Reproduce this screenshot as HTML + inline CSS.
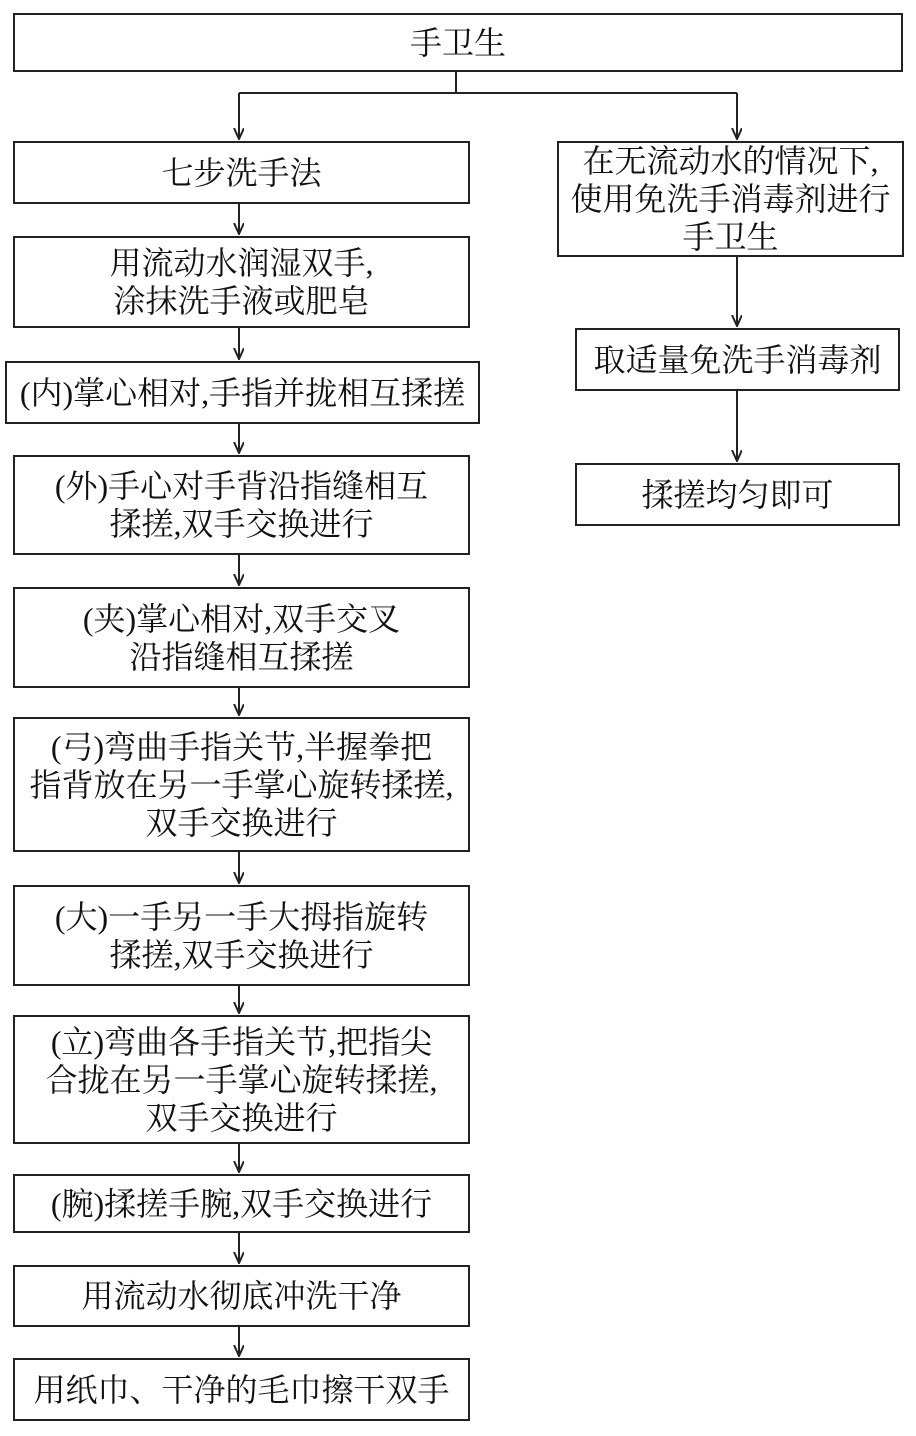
<!DOCTYPE html>
<html><head><meta charset="utf-8"><style>
body{margin:0;width:916px;height:1436px;background:#fff;position:relative;overflow:hidden;font-family:"Liberation Serif","Noto Serif CJK SC",serif;color:#111}
.b{position:absolute;border:2px solid #222;box-sizing:border-box;display:flex;align-items:center;justify-content:center;text-align:center;font-size:32px;line-height:38px;white-space:nowrap}
svg{position:absolute;left:0;top:0}
</style></head><body>
<svg width="916" height="1436">
<defs><marker id="a" markerWidth="12" markerHeight="12" refX="11" refY="5" orient="auto" markerUnits="userSpaceOnUse"><path d="M0,0 L11,5 L0,10" fill="none" stroke="#222" stroke-width="2"/></marker></defs>
<g stroke="#222" stroke-width="2" fill="none">
<path d="M456,71 V93 M239,93 H737"/>
<path d="M239,93 V139" marker-end="url(#a)"/>
<path d="M737,93 V139" marker-end="url(#a)"/>
<path d="M239,203 V234" marker-end="url(#a)"/>
<path d="M239,327 V359" marker-end="url(#a)"/>
<path d="M239,423 V453" marker-end="url(#a)"/>
<path d="M239,554 V585" marker-end="url(#a)"/>
<path d="M239,687 V715" marker-end="url(#a)"/>
<path d="M239,851 V883" marker-end="url(#a)"/>
<path d="M239,985 V1013" marker-end="url(#a)"/>
<path d="M239,1143 V1172" marker-end="url(#a)"/>
<path d="M239,1232 V1263" marker-end="url(#a)"/>
<path d="M239,1326 V1356" marker-end="url(#a)"/>
<path d="M737,256 V326" marker-end="url(#a)"/>
<path d="M737,390 V461" marker-end="url(#a)"/>
</g></svg>
<div class="b" style="left:13px;top:13px;width:890px;height:59px">手卫生</div>
<div class="b" style="left:13px;top:141px;width:457px;height:63px">七步洗手法</div>
<div class="b" style="left:13px;top:236px;width:457px;height:92px">用流动水润湿双手,<br>涂抹洗手液或肥皂</div>
<div class="b" style="left:5px;top:361px;width:475px;height:63px">(内)掌心相对,手指并拢相互揉搓</div>
<div class="b" style="left:13px;top:455px;width:457px;height:100px">(外)手心对手背沿指缝相互<br>揉搓,双手交换进行</div>
<div class="b" style="left:13px;top:587px;width:457px;height:101px">(夹)掌心相对,双手交叉<br>沿指缝相互揉搓</div>
<div class="b" style="left:13px;top:717px;width:457px;height:135px">(弓)弯曲手指关节,半握拳把<br>指背放在另一手掌心旋转揉搓,<br>双手交换进行</div>
<div class="b" style="left:13px;top:885px;width:457px;height:101px">(大)一手另一手大拇指旋转<br>揉搓,双手交换进行</div>
<div class="b" style="left:13px;top:1015px;width:457px;height:129px">(立)弯曲各手指关节,把指尖<br>合拢在另一手掌心旋转揉搓,<br>双手交换进行</div>
<div class="b" style="left:13px;top:1174px;width:457px;height:59px">(腕)揉搓手腕,双手交换进行</div>
<div class="b" style="left:13px;top:1265px;width:457px;height:62px">用流动水彻底冲洗干净</div>
<div class="b" style="left:13px;top:1358px;width:457px;height:63px">用纸巾、干净的毛巾擦干双手</div>
<div class="b" style="left:557px;top:141px;width:347px;height:116px">在无流动水的情况下,<br>使用免洗手消毒剂进行<br>手卫生</div>
<div class="b" style="left:575px;top:328px;width:325px;height:63px">取适量免洗手消毒剂</div>
<div class="b" style="left:575px;top:463px;width:325px;height:63px">揉搓均匀即可</div>
</body></html>
